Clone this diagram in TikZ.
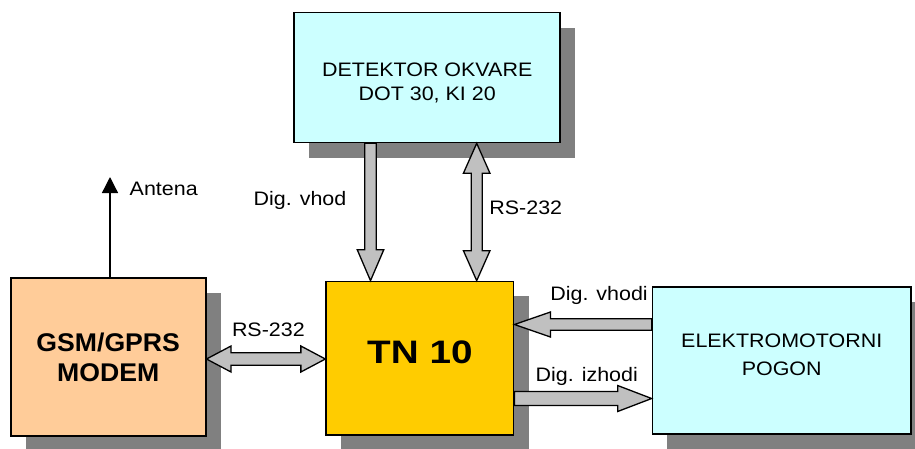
\documentclass[tikz,border=0pt]{standalone}
\usepackage{fontspec}
\setmainfont{Liberation Sans}
\newfontfamily\labfont[FakeStretch=1.1]{Liberation Sans}
\newfontfamily\gsmfont[FakeStretch=1.04]{Liberation Sans}
\newfontfamily\tnfont[FakeStretch=1.19]{Liberation Sans}
\usetikzlibrary{calc,shadows,arrows.meta}
\definecolor{detc}{HTML}{CCFFFF}
\definecolor{gsmc}{HTML}{FFCC99}
\definecolor{tnc}{HTML}{FFCC00}
\definecolor{shc}{HTML}{808080}
\definecolor{arc}{HTML}{C0C0C0}
\tikzset{
  box/.style={rectangle, draw=black, line width=1.6pt, inner sep=0pt,
    drop shadow={shadow xshift=15pt, shadow yshift=-15pt, fill=shc, opacity=1}},
  fatline/.style={draw=black, fill=arc, line width=1.3pt, line join=miter},
  lab/.style={inner sep=0pt, font=\labfont\fontsize{19.5}{24}\selectfont},
}
% single fat arrow: #1 from, #2 to, #3 shaft half width, #4 head half width, #5 head length
\newcommand\fatone[5]{%
  \draw[fatline] let \p1=($(#2)-(#1)$), \n1={veclen(\x1,\y1)}, \n2={atan2(\y1,\x1)} in
    [shift={(#1)}, rotate=\n2]
    (0pt,-#3) -- (\n1-#5,-#3) -- (\n1-#5,-#4) -- (\n1,0pt) -- (\n1-#5,#4) -- (\n1-#5,#3) -- (0pt,#3) -- cycle;}
% double fat arrow
\newcommand\fattwo[5]{%
  \draw[fatline] let \p1=($(#2)-(#1)$), \n1={veclen(\x1,\y1)}, \n2={atan2(\y1,\x1)} in
    [shift={(#1)}, rotate=\n2]
    (0pt,0pt) -- (#5,-#4) -- (#5,-#3) -- (\n1-#5,-#3) -- (\n1-#5,-#4) -- (\n1,0pt) -- (\n1-#5,#4) -- (\n1-#5,#3) -- (#5,#3) -- (#5,#4) -- cycle;}
\begin{document}
\begin{tikzpicture}[x=1pt,y=-1pt]
\useasboundingbox[fill=white] (0,0) rectangle (915,448);

\node[box, fill=detc, minimum width=266pt, minimum height=130pt,
  font=\labfont\fontsize{19.5}{24.7}\selectfont] (det) at (427.2,77.5)
  {\raisebox{-6.2pt}[\height][\depth]{\begin{tabular}{@{}c@{}}DETEKTOR OKVARE\\DOT 30, KI 20\end{tabular}}};
\node[box, fill=gsmc, minimum width=195pt, minimum height=158.5pt, align=center,
  font=\gsmfont\bfseries\fontsize{25.6}{29.7}\selectfont] (gsm) at (108.2,357)
  {GSM/GPRS\\MODEM};
\node[box, fill=tnc, minimum width=187.5pt, minimum height=153.5pt,
  font=\tnfont\bfseries\fontsize{32.5}{36}\selectfont, text depth=13pt] (tn) at (419.9,358.2)
  {TN 10};
\node[box, fill=detc, minimum width=258.5pt, minimum height=147.5pt, align=center,
  font=\labfont\fontsize{19.5}{28.4}\selectfont, text depth=12pt] (elk) at (781.7,360.5)
  {ELEKTROMOTORNI\\POGON};

% antenna
\coordinate (ant) at (110,177);
\draw[line width=1.3pt, -{Triangle[length=16pt,width=16pt]}] (gsm.north -| ant) -- (ant);
\node[lab, anchor=base west] (antl) at (129.5,195.7) {Antena};

% helper coordinates for arrow positions
\coordinate (dvx) at (370.5,0);
\coordinate (rvx) at (476.7,0);
\coordinate (rsy) at (0,359);
\coordinate (dviy) at (0,324.5);
\coordinate (dizy) at (0,398.5);

\fatone{det.south -| dvx}{tn.north -| dvx}{5.8pt}{13.3pt}{31pt}
\fattwo{det.south -| rvx}{tn.north -| rvx}{5.5pt}{13.3pt}{30pt}
\fattwo{gsm.east |- rsy}{tn.west |- rsy}{6.3pt}{13pt}{24.5pt}
\fatone{elk.west |- dviy}{tn.east |- dviy}{5.7pt}{12.5pt}{36pt}
\fatone{tn.east |- dizy}{elk.west |- dizy}{7pt}{13pt}{34pt}

% labels
\node[lab, anchor=base west] (ldv) at (253.5,205.7) {Dig. vhod};
\node[lab, anchor=base west] (lrv) at (489.2,214.3) {RS-232};
\node[lab, anchor=base west] (lrh) at (231.8,336.7) {RS-232};
\node[lab, anchor=base west] (ldvi) at (550.2,300.7) {Dig. vhodi};
\node[lab, anchor=base west] (ldiz) at (535.5,381.7) {Dig. izhodi};
\end{tikzpicture}
\end{document}
